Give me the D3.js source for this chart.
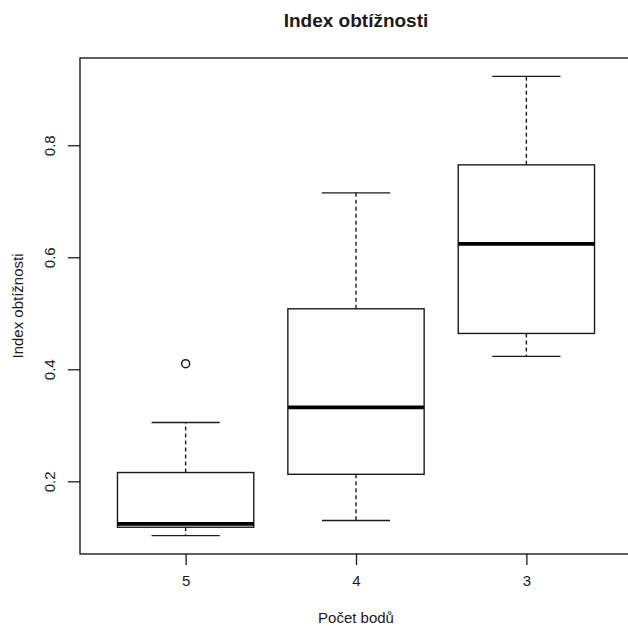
<!DOCTYPE html>
<html>
<head>
<meta charset="utf-8">
<script src="https://cdn.jsdelivr.net/npm/d3@7"></script>
<style>
  html, body { margin: 0; padding: 0; background: #fff; }
  svg { display: block; font-family: "Liberation Sans", Arial, Helvetica, sans-serif; }
</style>
</head>
<body>
<svg id="chart" width="628" height="626"></svg>
<script>
// Difficulty index by number of points
const categories   = ["5", "4", "3"];
const lowerWhisker = [0.103, 0.130, 0.423];
const q1           = [0.118, 0.2125, 0.464];
const medians      = [0.124, 0.332, 0.624];
const q3           = [0.2157, 0.508, 0.765];
const upperWhisker = [0.305, 0.715, 0.923];
const outliers     = [[0.410], [], []];
const yTicks       = [0.2, 0.4, 0.6, 0.8];

const title  = "Index obtížnosti";
const xTitle = "Počet bodů";
const yTitle = "Index obtížnosti";

const svg = d3.select("#chart");
const ink = "#1a1a1a";
const labelSize = "15px";

// Plot region (right edge runs past the canvas)
const plotL = 80, plotR = 632, plotT = 58, plotB = 554;

const n = categories.length;
const x = d3.scaleLinear()
  .domain([0.5 - 0.04 * n, n + 0.5 + 0.04 * n])
  .range([plotL, plotR]);

const allVals = lowerWhisker.concat(upperWhisker, outliers.flat());
const lo = d3.min(allVals), hi = d3.max(allVals);
const pad = (hi - lo) * 0.04;
const y = d3.scaleLinear().domain([lo - pad, hi + pad]).range([plotB, plotT]);

// Frame
svg.append("rect")
  .attr("x", plotL).attr("y", plotT)
  .attr("width", plotR - plotL).attr("height", plotB - plotT)
  .attr("fill", "none").attr("stroke", ink).attr("stroke-width", 1.4);

// Boxes
const boxW = 0.8, capW = 0.4;
const data = categories.map((c, i) => ({
  c, pos: i + 1,
  lw: lowerWhisker[i], q1: q1[i], med: medians[i], q3: q3[i], uw: upperWhisker[i],
  out: outliers[i]
}));

const g = svg.append("g");
data.forEach(d => {
  const cx = x(d.pos);
  const hw = (x(d.pos + boxW / 2) - x(d.pos - boxW / 2)) / 2;
  const cw = (x(d.pos + capW / 2) - x(d.pos - capW / 2)) / 2;
  // whiskers
  g.append("line").attr("x1", cx).attr("x2", cx).attr("y1", y(d.q3)).attr("y2", y(d.uw))
    .attr("stroke", ink).attr("stroke-width", 1.4).attr("stroke-dasharray", "4,3");
  g.append("line").attr("x1", cx).attr("x2", cx).attr("y1", y(d.q1)).attr("y2", y(d.lw))
    .attr("stroke", ink).attr("stroke-width", 1.4).attr("stroke-dasharray", "4,3");
  // caps
  [d.uw, d.lw].forEach(v => {
    g.append("line").attr("x1", cx - cw).attr("x2", cx + cw).attr("y1", y(v)).attr("y2", y(v))
      .attr("stroke", ink).attr("stroke-width", 1.4);
  });
  // box
  g.append("rect").attr("x", cx - hw).attr("y", y(d.q3))
    .attr("width", 2 * hw).attr("height", y(d.q1) - y(d.q3))
    .attr("fill", "none").attr("stroke", ink).attr("stroke-width", 1.4);
  // median
  g.append("line").attr("x1", cx - hw).attr("x2", cx + hw).attr("y1", y(d.med)).attr("y2", y(d.med))
    .attr("stroke", "#000").attr("stroke-width", 3.6);
  // outliers
  d.out.forEach(v => {
    g.append("circle").attr("cx", cx).attr("cy", y(v)).attr("r", 4)
      .attr("fill", "none").attr("stroke", ink).attr("stroke-width", 1.5);
  });
});

// Y axis
const yAxis = svg.append("g").attr("transform", `translate(${plotL},0)`)
  .call(d3.axisLeft(y).tickValues(yTicks).tickSize(12).tickFormat(d3.format(".1f")));
yAxis.select(".domain").remove();
yAxis.selectAll(".tick line").attr("stroke", ink).attr("stroke-width", 1.3);
yAxis.selectAll(".tick text")
  .attr("x", null).attr("dy", null)
  .attr("transform", "translate(-25,0) rotate(-90)")
  .attr("text-anchor", "middle")
  .attr("fill", ink)
  .style("font-size", labelSize)
  .attr("font-family", null);

// X axis
const xAxis = svg.append("g").attr("transform", `translate(0,${plotB})`)
  .call(d3.axisBottom(x).tickValues(data.map(d => d.pos)).tickSize(11)
    .tickFormat((d, i) => categories[i]));
xAxis.select(".domain").remove();
xAxis.selectAll(".tick line").attr("stroke", ink).attr("stroke-width", 1.3);
xAxis.selectAll(".tick text")
  .attr("y", 32).attr("dy", null)
  .attr("fill", ink)
  .style("font-size", labelSize)
  .attr("font-family", null);

// Titles
svg.append("text").attr("x", (plotL + plotR) / 2).attr("y", 27)
  .attr("text-anchor", "middle").attr("font-weight", "bold")
  .style("font-size", "19px").attr("fill", ink).text(title);

svg.append("text").attr("x", (plotL + plotR) / 2).attr("y", 623)
  .attr("text-anchor", "middle")
  .style("font-size", labelSize).attr("fill", ink).text(xTitle);

svg.append("text")
  .attr("transform", `translate(23,${(plotT + plotB) / 2}) rotate(-90)`)
  .attr("text-anchor", "middle")
  .style("font-size", labelSize).attr("fill", ink).text(yTitle);
</script>
</body>
</html>
